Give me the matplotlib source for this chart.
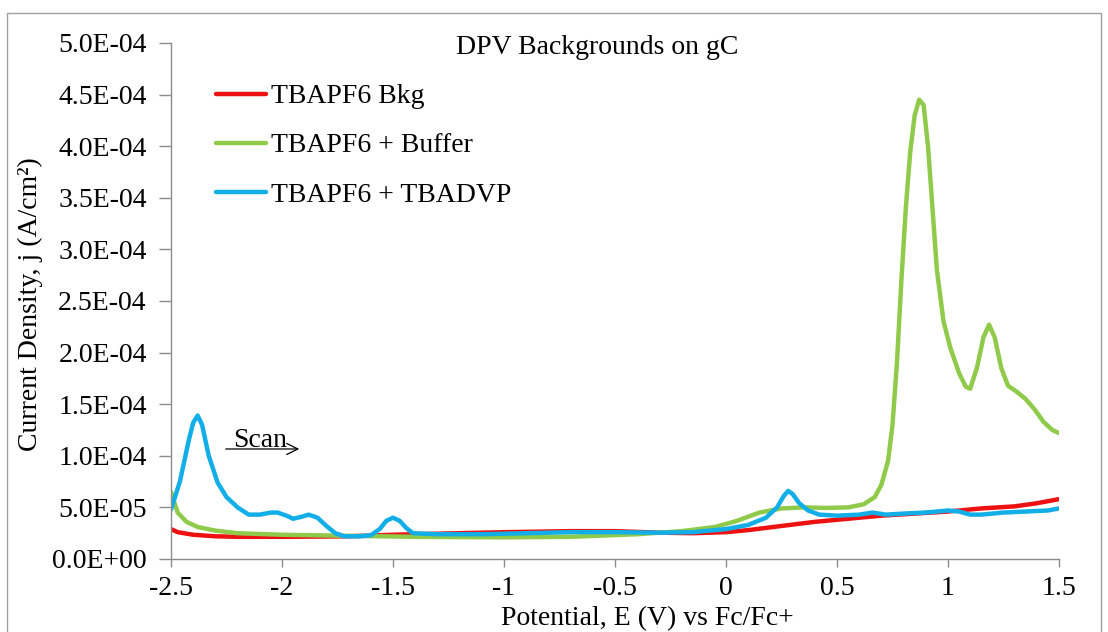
import matplotlib
matplotlib.use("Agg")
import matplotlib.pyplot as plt
from matplotlib.patches import Rectangle
from matplotlib.ticker import FuncFormatter

# potential (V vs Fc/Fc+) and current density (x1e-5 A/cm2)
bkg_x = [-2.5, -2.47, -2.4, -2.3, -2.2, -2.0, -1.7, -1.5, -1.2, -1.0, -0.7, -0.5,
         -0.3, -0.15, 0.0, 0.1, 0.25, 0.4, 0.55, 0.7, 0.85, 1.0, 1.15, 1.3, 1.4, 1.5]
bkg_y = [2.9, 2.6, 2.35, 2.2, 2.15, 2.15, 2.2, 2.35, 2.5, 2.6, 2.7, 2.7,
         2.55, 2.5, 2.6, 2.8, 3.2, 3.6, 3.9, 4.2, 4.4, 4.6, 4.9, 5.1, 5.4, 5.8]

buf_x = [-2.5, -2.47, -2.43, -2.38, -2.3, -2.2, -2.0, -1.7, -1.4, -1.0, -0.7, -0.4,
         -0.2, -0.05, 0.05, 0.15, 0.25, 0.35, 0.45, 0.55, 0.62, 0.67, 0.7, 0.73,
         0.75, 0.77, 0.79, 0.81, 0.83, 0.85, 0.87, 0.89, 0.91, 0.93, 0.95, 0.98,
         1.01, 1.05, 1.08, 1.1, 1.13, 1.16, 1.185, 1.21, 1.24, 1.27, 1.31, 1.35,
         1.39, 1.43, 1.47, 1.5]
buf_y = [6.5, 4.5, 3.6, 3.1, 2.75, 2.5, 2.35, 2.25, 2.15, 2.1, 2.15, 2.4,
         2.7, 3.1, 3.7, 4.5, 4.9, 5.0, 4.95, 5.0, 5.3, 6.0, 7.2, 9.5,
         13, 19, 27, 34, 39.5, 43, 44.5, 44, 40, 34, 28, 23,
         20.5, 18, 16.7, 16.5, 18.5, 21.5, 22.7, 21.5, 18.5, 16.8, 16.2, 15.5,
         14.5, 13.3, 12.5, 12.2]

dvp_x = [-2.5, -2.46, -2.42, -2.40, -2.38, -2.36, -2.33, -2.29, -2.25, -2.2, -2.15,
         -2.1, -2.05, -2.02, -1.98, -1.95, -1.91, -1.88, -1.84, -1.8, -1.76, -1.72,
         -1.65, -1.6, -1.56, -1.53, -1.5, -1.47, -1.44, -1.41, -1.3, -1.1, -0.9,
         -0.7, -0.5, -0.3, -0.15, 0.0, 0.1, 0.18, 0.23, 0.26, 0.28, 0.3, 0.33,
         0.37, 0.42, 0.5, 0.6, 0.66, 0.72, 0.8, 0.9, 1.0, 1.05, 1.1, 1.15, 1.25,
         1.35, 1.45, 1.5]
dvp_y = [4.8, 7.5, 11.5, 13.2, 13.9, 13.0, 10.0, 7.4, 6.0, 5.0, 4.3,
         4.3, 4.5, 4.5, 4.2, 3.9, 4.1, 4.3, 4.0, 3.2, 2.5, 2.2,
         2.2, 2.3, 2.9, 3.7, 4.0, 3.7, 3.0, 2.5, 2.4, 2.4, 2.5,
         2.6, 2.6, 2.55, 2.6, 2.9, 3.3, 4.0, 5.0, 6.1, 6.6, 6.3, 5.4,
         4.7, 4.3, 4.2, 4.3, 4.5, 4.3, 4.4, 4.5, 4.7, 4.6, 4.3, 4.3, 4.5,
         4.6, 4.7, 4.9]

series = [
    ("TBAPF6 Bkg", bkg_x, bkg_y, "#ee1111"),
    ("TBAPF6 + Buffer", buf_x, buf_y, "#8fca4a"),
    ("TBAPF6 + TBADVP", dvp_x, dvp_y, "#12aee8"),
]

x_ticks = [-2.5, -2, -1.5, -1, -0.5, 0, 0.5, 1, 1.5]
x_labels = ["-2.5", "-2", "-1.5", "-1", "-0.5", "0", "0.5", "1", "1.5"]
y_ticks = [i * 5e-5 for i in range(11)]

plt.rcParams['font.family'] = ['Liberation Serif', 'DejaVu Serif']
FS = 20

W, H = 1108, 632
fig = plt.figure(figsize=(W / 100, H / 100), dpi=100)
ax = fig.add_axes([171 / W, 1 - 559 / H, (1059 - 171) / W, (559 - 43) / H])

for name, xs, ys, col in series:
    ax.plot(xs, [v * 1e-5 for v in ys], color=col, lw=3.2, label=name,
            solid_capstyle='round', solid_joinstyle='round')

ax.set_xlim(-2.5, 1.5)
ax.set_ylim(0, 5e-4)
ax.set_xticks(x_ticks)
ax.set_xticklabels(x_labels)
ax.set_yticks(y_ticks)
ax.yaxis.set_major_formatter(FuncFormatter(lambda v, p: f"{v:.1E}"))

for s in ["top", "right"]:
    ax.spines[s].set_visible(False)
for s in ["left", "bottom"]:
    ax.spines[s].set_color("#8c8c8c")
    ax.spines[s].set_linewidth(1.0)
ax.tick_params(axis="both", colors="#8c8c8c", labelcolor="black",
               labelsize=FS, width=1.0)
ax.tick_params(axis="x", length=6, pad=6)
ax.tick_params(axis="y", length=8.5, pad=9)

# axis titles placed where the reference has them
fig.text(647 / W, 1 - 625 / H, "Potential, E (V) vs Fc/Fc+", fontsize=FS,
         ha="center", va="baseline")
fig.text(30 / W, 1 - 304 / H, "Current Density, j (A/cm²)", fontsize=FS,
         ha="center", va="center", rotation=90)

fig.text(597 / W, 1 - 47 / H, "DPV Backgrounds on gC", fontsize=FS,
         ha="center", va="center")

ax.legend(loc="upper left", bbox_to_anchor=(216 / W, 1 - 84 / H),
          bbox_transform=fig.transFigure, frameon=False, fontsize=FS,
          handlelength=1.8, handletextpad=0.18, labelspacing=0.85,
          borderpad=0, borderaxespad=0)

# scan direction note
ax.annotate("", xy=(-1.91, 1.066e-4), xytext=(-2.266, 1.066e-4),
            arrowprops=dict(arrowstyle="->", color="black", lw=0.9,
                            mutation_scale=20))
ax.text(-2.097, 1.085e-4, "Scan", fontsize=FS, ha="center", va="baseline")

# light border around the whole picture
fig.add_artist(Rectangle((7 / W, -0.05), (1101 - 7) / W, 1 - 13 / H + 0.05,
                         transform=fig.transFigure, fill=False,
                         edgecolor="#a0a0a0", lw=1.0))

fig.savefig("out.png", dpi=100)
